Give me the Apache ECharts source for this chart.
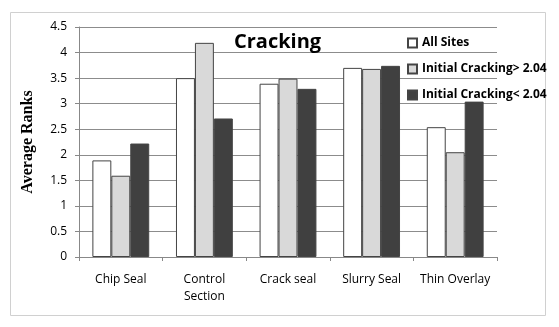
<!DOCTYPE html>
<html><head><meta charset="utf-8">
<script src="https://cdn.jsdelivr.net/npm/echarts@6/dist/echarts.min.js"></script>
<style>html,body{margin:0;padding:0;background:#fff}#c{width:559px;height:327px}</style>
</head><body><div id="c"></div>
<script>
const categories = ['Chip Seal', 'Control\nSection', 'Crack seal', 'Slurry Seal', 'Thin Overlay'];
const seriesNames = ['All Sites', 'Initial Cracking> 2.04', 'Initial Cracking< 2.04'];
const allSites = [1.89, 3.50, 3.39, 3.70, 2.54];
const crackingHigh = [1.59, 4.19, 3.49, 3.68, 2.05];
const crackingLow = [2.22, 2.71, 3.29, 3.74, 3.04];
const colors = ['#ffffff', '#d9d9d9', '#404040'];
const values = [allSites, crackingHigh, crackingLow];

const chart = echarts.init(document.getElementById('c'));
chart.setOption({
  animation: false,
  backgroundColor: '#fff',
  title: {
    text: 'Cracking', left: 229, top: 27,
    textStyle: {fontFamily: 'Open Sans', fontSize: 20, fontWeight: 'bold', color: '#000'}
  },
  legend: {
    orient: 'vertical', left: 402, top: 32, itemGap: 14,
    itemWidth: 9, itemHeight: 9, icon: 'rect',
    textStyle: {fontFamily: 'Open Sans', fontSize: 12, fontWeight: 'bold', color: '#000'},
    data: seriesNames
  },
  graphic: [{
    type: 'rect', shape: {x: 10.5, y: 12.5, width: 535, height: 303},
    style: {fill: 'none', stroke: '#d0d0d0', lineWidth: 1}, silent: true, z: -1
  }],
  grid: {left: 79, right: 62, top: 27, bottom: 70},
  xAxis: {
    type: 'category', data: categories,
    axisLine: {lineStyle: {color: '#888'}},
    axisTick: {show: true, length: 4, lineStyle: {color: '#888'}},
    axisLabel: {interval: 0, fontFamily: 'Open Sans', fontSize: 12, color: '#000', margin: 14, lineHeight: 17}
  },
  yAxis: {
    type: 'value', min: 0, max: 4.5, interval: 0.5,
    name: 'Average Ranks', nameLocation: 'middle', nameGap: 43, nameRotate: 90,
    nameTextStyle: {fontFamily: 'Liberation Serif', fontSize: 16, fontWeight: 'bold', color: '#000'},
    axisLine: {show: true, lineStyle: {color: '#888'}},
    axisTick: {show: true, length: 4, lineStyle: {color: '#888'}},
    splitLine: {lineStyle: {color: '#8c8c8c'}},
    axisLabel: {fontFamily: 'Open Sans', fontSize: 12, color: '#000', margin: 12}
  },
  series: seriesNames.map((n, i) => ({
    name: n, type: 'bar', data: values[i],
    barGap: '0%', barCategoryGap: '32%',
    itemStyle: {color: colors[i], borderColor: '#444', borderWidth: 1}
  }))
});
</script></body></html>
